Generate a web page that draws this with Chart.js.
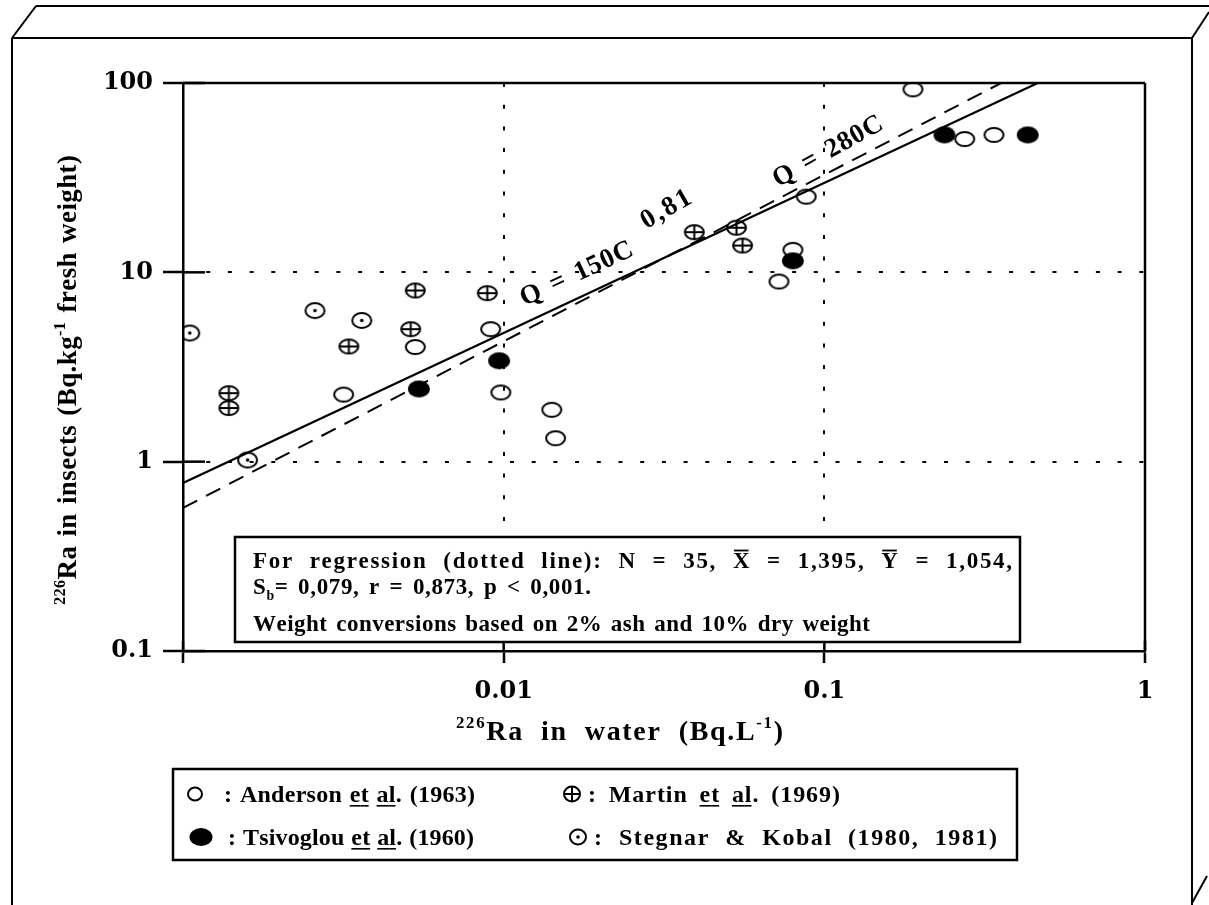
<!DOCTYPE html>
<html>
<head>
<meta charset="utf-8">
<script src="https://cdn.jsdelivr.net/npm/chart.js@4.4.0/dist/chart.umd.min.js"></script>
<style>
  html, body { margin: 0; padding: 0; background: #fff; }
  canvas { display: block; }
</style>
</head>
<body>
<canvas id="chart" width="1209" height="905"></canvas>
<script>
// 226Ra in water (Bq/L) against 226Ra in insects (Bq/kg fresh weight)
const andersonX = [0.00317, 0.0053, 0.00911, 0.0098, 0.01413, 0.01452, 0.0722, 0.0798, 0.0878, 0.189, 0.274, 0.338];
const andersonY = [2.26, 4.03, 5.01, 2.32, 1.88, 1.33, 8.94, 13.15, 25.1, 92.6, 50.6, 53.2];
const martinX = [0.00139, 0.00139, 0.00329, 0.00513, 0.0053, 0.00889, 0.0393, 0.0532, 0.0556];
const martinY = [2.30, 1.92, 4.06, 5.01, 8.02, 7.76, 16.3, 17.2, 13.85];
const tsivoglouX = [0.00544, 0.00968, 0.0798, 0.237, 0.431];
const tsivoglouY = [2.42, 3.41, 11.5, 53.2, 53.2];
const stegnarX = [0.00105, 0.00159, 0.00258, 0.00361];
const stegnarY = [4.78, 1.02, 6.28, 5.57];

const seriesLabels = ['Anderson _et_ _al_. (1963)', 'Martin _et_ _al_. (1969)', 'Tsivoglou _et_ _al_. (1960)', 'Stegnar & Kobal (1980, 1981)'];

// regression lines (end points)
const solidLineX = [0.001, 0.463];
const solidLineY = [0.772, 100];
const dashedLineX = [0.001, 0.356];
const dashedLineY = [0.570, 100];

const annotationText = ['Q = 150C', '0,81', 'Q = 280C'];
const annotationX = [0.0168, 0.0319, 0.102];
const annotationY = [10.0, 21.9, 44.3];

const xTicks = [0.001, 0.01, 0.1, 1];
const xTickLabels = ['', '0.01', '0.1', '1'];
const yTicks = [0.1, 1, 10, 100];
const yTickLabels = ['0.1', '1', '10', '100'];

const SERIF = '"Liberation Serif", "Times New Roman", serif';
const WIDE = '"DejaVu Serif", serif';

const toPoints = (xs, ys) => xs.map((x, i) => ({ x, y: ys[i] }));

// marker shapes: open circle, filled circle, circle with cross, circle with dot
function drawMarker(ctx, kind, cx, cy, rx, ry) {
    ctx.save();
    ctx.lineWidth = 2;
    ctx.strokeStyle = '#000';
    ctx.fillStyle = '#000';
    ctx.beginPath();
    ctx.ellipse(cx, cy, rx, ry, 0, 0, Math.PI * 2);
    if (kind === 'filled') ctx.fill(); else ctx.stroke();
    if (kind === 'plus') {
        ctx.beginPath();
        ctx.moveTo(cx - rx, cy); ctx.lineTo(cx + rx, cy);
        ctx.moveTo(cx, cy - ry); ctx.lineTo(cx, cy + ry);
        ctx.stroke();
    }
    if (kind === 'dot') {
        ctx.beginPath();
        ctx.arc(cx, cy, 1.8, 0, Math.PI * 2);
        ctx.fill();
    }
    ctx.restore();
}

function markerCanvas(kind, rx, ry) {
    const c = document.createElement('canvas');
    c.width = Math.ceil(rx * 2 + 6);
    c.height = Math.ceil(ry * 2 + 6);
    drawMarker(c.getContext('2d'), kind, c.width / 2, c.height / 2, rx, ry);
    return c;
}

const markers = {
    open: markerCanvas('open', 9.5, 7),
    filled: markerCanvas('filled', 11, 8.5),
    plus: markerCanvas('plus', 9.5, 7),
    dot: markerCanvas('dot', 9.5, 7.5),
};

// rich text helpers (superscript, subscript, underline, overbar).
// When a width is given the text is justified, mostly by widening the word gaps.
function parseRuns(label) {
    return label.split(/(_[^_]+_)/).filter(s => s).map(s =>
        s.startsWith('_') ? { t: s.slice(1, -1), u: true } : { t: s });
}

function drawRich(ctx, runs, x, y, o) {
    const glyphs = [];
    runs.forEach(r => {
        const size = (r.sup || r.sub) ? o.size * 0.6 : o.size;
        const dy = r.sup ? -o.size * 0.42 : r.sub ? o.size * 0.28 : 0;
        const font = `bold ${size}px ${o.family}`;
        ctx.font = font;
        for (const ch of r.t) {
            glyphs.push({ ch, font, dy, size, u: r.u, bar: r.bar, w: ctx.measureText(ch).width });
        }
    });
    const natural = glyphs.reduce((s, g) => s + g.w, 0);
    const spaceWeight = o.spaceWeight ?? 6;
    const weights = glyphs.map((g, i) => i === glyphs.length - 1 ? 0 : (g.ch === ' ' ? spaceWeight : 1));
    const wsum = weights.reduce((a, b) => a + b, 0);
    const unit = o.width ? (o.width - natural) / wsum : 0;
    const adv = glyphs.map((g, i) => g.w + unit * weights[i]);
    const total = adv.reduce((a, b) => a + b, 0);
    let cx = o.align === 'center' ? x - total / 2 : x;
    ctx.save();
    ctx.fillStyle = '#000';
    ctx.textAlign = 'left';
    ctx.textBaseline = 'alphabetic';
    glyphs.forEach((g, i) => {
        ctx.font = g.font;
        ctx.fillText(g.ch, cx, y + g.dy);
        const next = glyphs[i + 1];
        if (g.u) ctx.fillRect(cx, y + 3, (next && next.u) ? adv[i] : g.w, 1.6);
        if (g.bar) ctx.fillRect(cx + 1, y - g.size * 0.8, g.w - 2, 1.8);
        cx += adv[i];
    });
    ctx.restore();
}

const line = (ctx, x1, y1, x2, y2) => {
    ctx.beginPath();
    ctx.moveTo(x1, y1);
    ctx.lineTo(x2, y2);
    ctx.stroke();
};

// page frame drawn as an open box
const framePlugin = {
    id: 'frame',
    beforeDraw(chart) {
        const ctx = chart.ctx;
        ctx.save();
        ctx.fillStyle = '#fff';
        ctx.fillRect(0, 0, chart.width, chart.height);
        ctx.strokeStyle = '#000';
        ctx.lineWidth = 2;
        line(ctx, 12, 38, 12, 905);
        line(ctx, 12, 38, 1192, 38);
        line(ctx, 1192, 38, 1192, 905);
        line(ctx, 36, 6, 1209, 6);
        line(ctx, 12, 38, 36, 6);
        line(ctx, 1192, 38, 1209, 12);
        line(ctx, 1192, 903, 1207, 876);
        ctx.restore();
    }
};

// extra decoration: plot border, inner tick stubs, labels, stats box, legend, axis titles
const decorPlugin = {
    id: 'decor',
    afterDraw(chart) {
        const ctx = chart.ctx;
        const { left, right, top, bottom } = chart.chartArea;
        const xs = chart.scales.x, ys = chart.scales.y;
        ctx.save();
        ctx.strokeStyle = '#000';
        ctx.lineWidth = 2.5;
        line(ctx, left, top, right, top);
        line(ctx, right, top, right, bottom);
        yTicks.forEach(v => line(ctx, left, ys.getPixelForValue(v), left + 22, ys.getPixelForValue(v)));
        xTicks.forEach(v => line(ctx, xs.getPixelForValue(v), bottom, xs.getPixelForValue(v), bottom - 10));

        // fitted line labels
        const angles = [-25, -30, -29];
        annotationText.forEach((t, i) => {
            ctx.save();
            ctx.translate(xs.getPixelForValue(annotationX[i]), ys.getPixelForValue(annotationY[i]));
            ctx.rotate(angles[i] * Math.PI / 180);
            drawRich(ctx, [{ t }], 0, 9, { size: 27, family: SERIF, align: 'center', width: i === 1 ? 54 : 122 });
            ctx.restore();
        });

        // statistics box
        ctx.fillStyle = '#fff';
        ctx.fillRect(235, 537, 785, 105);
        ctx.lineWidth = 2.5;
        ctx.strokeRect(235, 537, 785, 105);
        drawRich(ctx, [
            { t: 'For regression (dotted line): N = 35, ' }, { t: 'X', bar: true },
            { t: ' = 1,395, ' }, { t: 'Y', bar: true }, { t: ' = 1,054,' }
        ], 253, 568, { size: 23, family: SERIF, width: 759 });
        drawRich(ctx, [{ t: 'S' }, { t: 'b', sub: true }, { t: '= 0,079, r = 0,873, p < 0,001.' }],
            253, 594, { size: 23, family: SERIF, width: 338 });
        drawRich(ctx, [{ t: 'Weight conversions based on 2% ash and 10% dry weight' }],
            253, 631, { size: 23, family: SERIF, width: 617 });

        // axis titles
        drawRich(ctx, [{ t: '226', sup: true }, { t: 'Ra in water (Bq.L' }, { t: '-1', sup: true }, { t: ')' }],
            456, 740, { size: 28, family: SERIF, width: 327 });
        ctx.save();
        ctx.translate(76, 380);
        ctx.rotate(-Math.PI / 2);
        drawRich(ctx, [{ t: '226', sup: true }, { t: 'Ra in insects (Bq.kg' }, { t: '-1', sup: true }, { t: ' fresh weight)' }],
            0, 0, { size: 27, family: SERIF, align: 'center', width: 450 });
        ctx.restore();

        // legend
        ctx.fillStyle = '#fff';
        ctx.fillRect(173, 769, 844, 91);
        ctx.lineWidth = 2.5;
        ctx.strokeRect(173, 769, 844, 91);
        const legendMarkers = [['open', 195, 794, 7, 6.5], ['plus', 572, 794, 8, 7.5], ['filled', 201, 837, 11.5, 9], ['dot', 578, 837, 8, 7.5]];
        const legendText = [[224, 802, 251], [588, 802, 252], [228, 845, 246], [594, 845, 403]];
        seriesLabels.forEach((lab, i) => {
            const [kind, mx, my, rx, ry] = legendMarkers[i];
            drawMarker(ctx, kind, mx, my, rx, ry);
            const [tx, ty, tw] = legendText[i];
            drawRich(ctx, parseRuns(': ' + lab), tx, ty, { size: 24, family: SERIF, width: tw });
        });
        ctx.restore();
    }
};

const gridAt = (values) => (c) => (c.tick && values.includes(c.tick.value)) ? '#000' : 'rgba(0,0,0,0)';

new Chart(document.getElementById('chart'), {
    type: 'scatter',
    data: {
        datasets: [
            { label: seriesLabels[0], data: toPoints(andersonX, andersonY), pointStyle: markers.open, pointRadius: 10 },
            { label: seriesLabels[1], data: toPoints(martinX, martinY), pointStyle: markers.plus, pointRadius: 10 },
            { label: seriesLabels[2], data: toPoints(tsivoglouX, tsivoglouY), pointStyle: markers.filled, pointRadius: 10 },
            { label: seriesLabels[3], data: toPoints(stegnarX, stegnarY), pointStyle: markers.dot, pointRadius: 10 },
            {
                type: 'line', label: 'Q = 150C^0,81', data: toPoints(solidLineX, solidLineY),
                borderColor: '#000', borderWidth: 2.2, pointRadius: 0, showLine: true, fill: false,
            },
            {
                type: 'line', label: 'Q = 280C', data: toPoints(dashedLineX, dashedLineY),
                borderColor: '#000', borderWidth: 2, borderDash: [16, 10], pointRadius: 0, showLine: true, fill: false,
            },
        ],
    },
    options: {
        responsive: false,
        animation: false,
        layout: { padding: { top: 83, right: 64, left: 0, bottom: 0 } },
        plugins: {
            legend: { display: false },
            tooltip: { enabled: false },
        },
        scales: {
            x: {
                type: 'logarithmic',
                min: 0.001,
                max: 1,
                afterBuildTicks: (s) => { s.ticks = xTicks.map(v => ({ value: v })); },
                afterFit: (s) => { s.height = 254; },
                ticks: {
                    callback: (v) => xTickLabels[xTicks.indexOf(v)] ?? '',
                    font: { family: WIDE, size: 24, weight: 'bold' },
                    color: '#000',
                    padding: 14,
                    maxRotation: 0,
                    autoSkip: false,
                },
                grid: {
                    color: gridAt([0.01, 0.1]),
                    lineWidth: 2,
                    tickLength: 12,
                    tickWidth: 2.5,
                    tickColor: '#000',
                },
                border: { display: true, color: '#000', width: 2.5, dash: [4, 17.7] },
            },
            y: {
                type: 'logarithmic',
                min: 0.1,
                max: 100,
                afterBuildTicks: (s) => { s.ticks = yTicks.map(v => ({ value: v })); },
                afterFit: (s) => { s.width = 183; },
                ticks: {
                    callback: (v) => yTickLabels[yTicks.indexOf(v)] ?? '',
                    font: { family: WIDE, size: 24, weight: 'bold' },
                    color: '#000',
                    padding: 10,
                    autoSkip: false,
                },
                grid: {
                    color: gridAt([1, 10]),
                    lineWidth: 2,
                    tickLength: 20,
                    tickWidth: 2.5,
                    tickColor: '#000',
                },
                border: { display: true, color: '#000', width: 2.5, dash: [4, 17.7] },
            },
        },
    },
    plugins: [framePlugin, decorPlugin],
});
</script>
</body>
</html>
